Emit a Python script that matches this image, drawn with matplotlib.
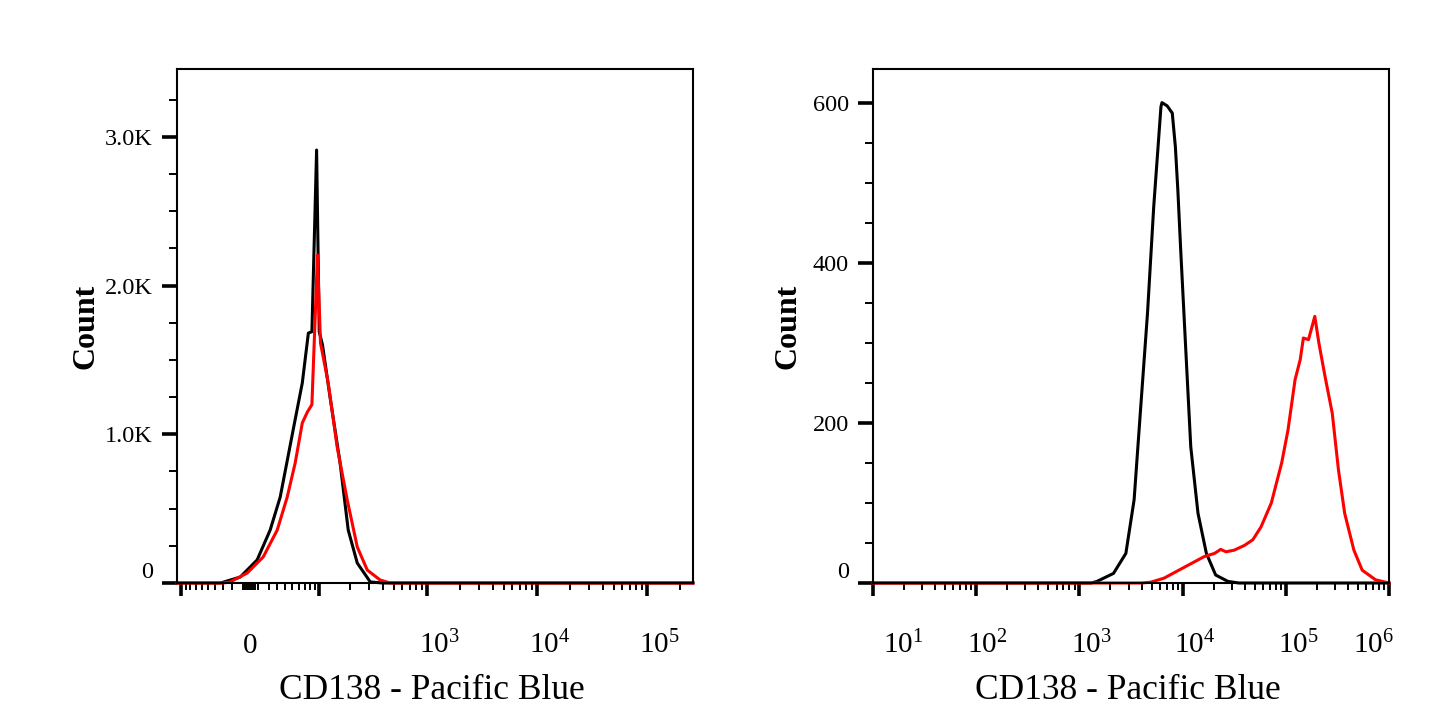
import matplotlib
matplotlib.use("Agg")
import matplotlib.pyplot as plt
from matplotlib.transforms import ScaledTranslation

plt.rcParams["font.family"] = ["Liberation Serif", "DejaVu Serif"]
plt.rcParams["mathtext.fontset"] = "custom"
plt.rcParams["mathtext.rm"] = "Liberation Serif"
plt.rcParams["mathtext.it"] = "Liberation Serif:italic"
plt.rcParams["mathtext.bf"] = "Liberation Serif:bold"

# ---- left panel (biexponential axis) ----
left_black_x = [-110, -33, -10.5, 7.3, 21.5, 33.5, 51.2, 65.9, 77, 84, 94, 100, 108,
                128, 160, 191, 232, 306, 400, 262144]
left_black_y = [0, 0, 40, 155, 356, 578, 1029, 1345, 1681, 1690, 2912, 1690, 1600,
                1251, 807, 356, 134, 7, 0, 0]
left_red_x = [-110, -30, -21.5, -3.1, 13.8, 29.8, 42.7, 54.3, 65.9, 75.1, 84, 96, 103,
              123, 150, 187, 232, 287, 377, 466, 262144]
left_red_y = [0, 0, 7, 67, 175, 356, 578, 807, 1076, 1150, 1200, 2206, 1614,
              1345, 915, 558, 242, 87, 20, 0, 0]
left_yticks = [0, 1000, 2000, 3000]
left_ylabels = ["0", "1.0K", "2.0K", "3.0K"]
left_xlabel_vals = [0, 1e3, 1e4, 1e5]
left_xlabels = ["0", "$10^3$", "$10^4$", "$10^5$"]

# ---- right panel (log axis) ----
right_black_x = [10, 1300, 1480, 2140, 2820, 3390, 3890, 4570, 5250, 6170, 6310, 7080,
                 7940, 8510, 9000, 9550, 10700, 12000, 14100, 17000, 20900, 27500, 35000, 1e6]
right_black_y = [0, 0, 2, 12, 37, 104, 212, 337, 470, 595, 600, 596,
                 587, 545, 490, 420, 295, 170, 87, 37, 10, 2, 0, 0]
right_red_x = [10, 4000, 4900, 6600, 10500, 16200, 20400, 23400, 26300, 31600, 39800,
               47900, 57500, 72400, 91200, 105000, 123000, 138000, 148000, 166000,
               191000, 209000, 240000, 282000, 324000, 372000, 457000, 550000,
               741000, 1e6]
right_red_y = [0, 0, 1, 6, 20, 33, 37, 42, 39, 41, 47,
               54, 70, 100, 150, 191, 254, 279, 306, 304,
               333, 300, 258, 212, 141, 87, 41, 16,
               4, 0]
right_yticks = [0, 200, 400, 600]
right_ylabels = ["0", "200", "400", "600"]
right_xlabel_vals = [1e1, 1e2, 1e3, 1e4, 1e5, 1e6]
right_xlabels = ["$10^1$", "$10^2$", "$10^3$", "$10^4$", "$10^5$", "$10^6$"]

XLABEL = "CD138 - Pacific Blue"
YLABEL = "Count"
LW = 2.2


def log_minors(lo_exp, hi_exp, extra=()):
    out = [m * 10 ** e for e in range(lo_exp, hi_exp) for m in range(2, 10)]
    return out + list(extra)


def style_axis(ax, fig, ymax, yminor_step, shifts):
    for s in ax.spines.values():
        s.set_linewidth(1.5)
    ax.set_ylim(0, ymax)
    ax.set_yticks([v * yminor_step for v in range(int(ymax // yminor_step) + 1)], minor=True)
    ax.tick_params(axis="y", which="major", direction="out", length=11, width=2.6,
                   pad=6.5, labelsize=17.5)
    ax.tick_params(axis="y", which="minor", direction="out", length=5.5, width=1.4)
    ax.tick_params(axis="x", which="major", direction="out", length=9.5, width=2.6,
                   pad=41, labelsize=21)
    ax.tick_params(axis="x", which="minor", direction="out", length=5, width=1.4)
    # y "0" sits just above its tick
    ax.get_yticklabels()[0].set_va("bottom")
    # x labels: baseline aligned, small horizontal nudges like the source
    for lbl, (ha, dx) in zip(ax.get_xticklabels(), shifts):
        lbl.set_ha(ha)
        lbl.set_va("baseline")
        lbl.set_transform(lbl.get_transform() + ScaledTranslation(dx / 100, 0, fig.dpi_scale_trans))
    ax.set_xlabel(XLABEL, fontsize=25.5)
    ax.set_ylabel(YLABEL, fontsize=23, fontweight="bold")


fig = plt.figure(figsize=(14.45, 7.23), dpi=100)
axL = fig.add_axes([177 / 1445, 140 / 723, 516 / 1445, 514 / 723])
axR = fig.add_axes([873 / 1445, 140 / 723, 516 / 1445, 514 / 723])

# left
axL.plot(left_black_x, left_black_y, color="black", lw=LW, clip_on=False)
axL.plot(left_red_x, left_red_y, color="#ff0000", lw=LW, clip_on=False)
axL.set_xscale("asinh", linear_width=50)
axL.set_xlim(-110, 262144)
axL.set_yticks(left_yticks, left_ylabels)
axL.set_xticks([-90, -80, -70, -60, -50, -40, -30, -20, -8, -5, -3, -1, 1, 3, 5, 8,
                20, 30, 40, 50, 60, 70, 80, 90] + log_minors(2, 5, extra=[2e5]), minor=True)
axL.set_xticks([-100, 0, 100] + left_xlabel_vals[1:],
               ["", left_xlabels[0], ""] + left_xlabels[1:])
style_axis(axL, fig, 3457, 250,
           [("center", 0), ("center", 0), ("center", 0), ("left", -8), ("left", -8), ("left", -8)])
# the tick at 0 has no long mark in the source
axL.xaxis.get_major_ticks()[1].tick1line.set_markersize(0)
axL.yaxis.set_label_coords(-0.149, 0.5)
axL.xaxis.set_label_coords(0.493, -0.177)

# right
axR.plot(right_black_x, right_black_y, color="black", lw=LW, clip_on=False)
axR.plot(right_red_x, right_red_y, color="#ff0000", lw=LW, clip_on=False)
axR.set_xscale("log")
axR.set_xlim(10, 1e6)
axR.set_yticks(right_yticks, right_ylabels)
axR.set_xticks(right_xlabel_vals, right_xlabels)
axR.set_xticks(log_minors(1, 6), minor=True)
style_axis(axR, fig, 642, 50,
           [("left", 10), ("left", -9), ("left", -8), ("left", -9), ("left", -8), ("right", 5)])
axR.yaxis.set_label_coords(-0.136, 0.5)
axR.xaxis.set_label_coords(0.494, -0.177)

fig.savefig("out.png", dpi=100)
